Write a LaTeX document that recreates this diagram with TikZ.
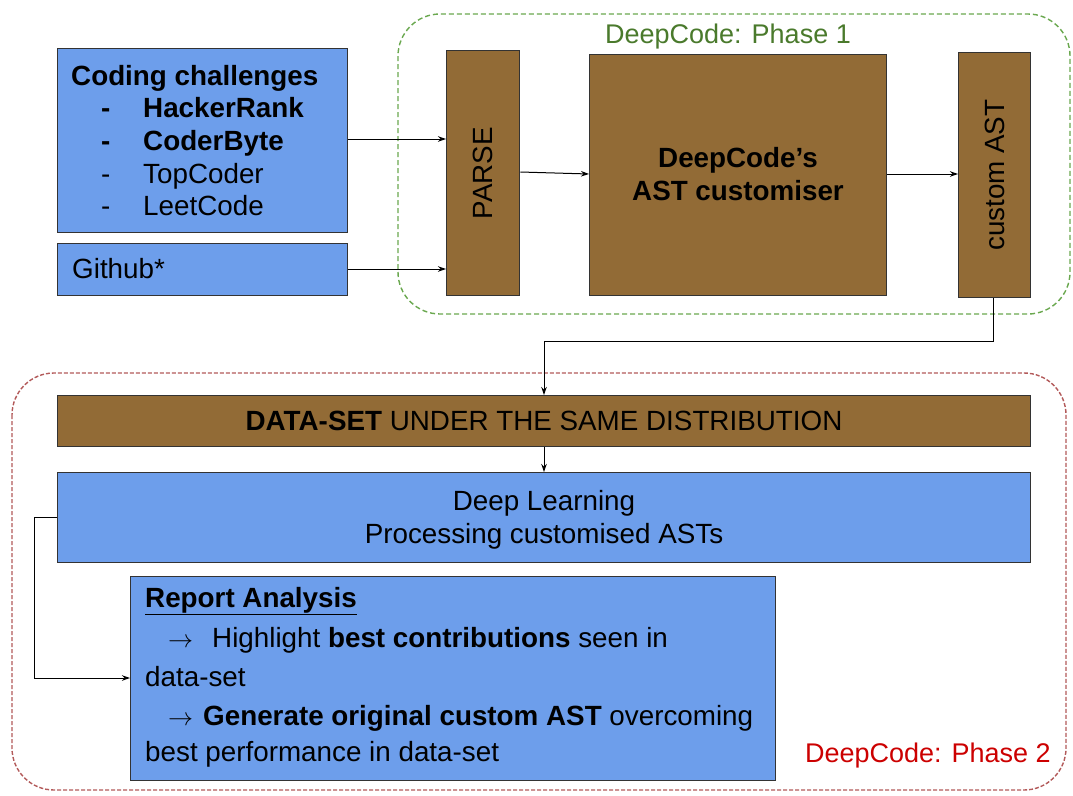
\documentclass[tikz,border=0pt]{standalone}
\usepackage{fontspec}
\usepackage{graphicx}
\setmainfont{Liberation Sans}
\usetikzlibrary{arrows.meta}
\definecolor{boxblue}{HTML}{6D9EEB}
\definecolor{boxbrown}{HTML}{926B36}
\definecolor{phaseonegreen}{HTML}{6AA84F}
\definecolor{phaseonetext}{HTML}{4A7A2C}
\definecolor{phasetwored}{HTML}{B35A5A}
\definecolor{phasetwotext}{HTML}{CC0000}
\newcommand{\rarr}{\makebox[25pt][l]{\resizebox{25pt}{!}{$\rightarrow$}}}
\begin{document}
\begin{tikzpicture}[x=1pt,y=-1pt,
  txt/.style={font=\fontsize{27.8}{33}\selectfont, inner sep=0pt},
  labeltxt/.style={font=\fontsize{27}{33}\selectfont, inner sep=0pt},
  bluebox/.style={draw=black!80, fill=boxblue, line width=1.3pt, inner sep=0pt, anchor=north west},
  brownbox/.style={draw=black!80, fill=boxbrown, line width=1.3pt, inner sep=0pt, anchor=north west},
  link/.style={draw=black, line width=1pt, -{Stealth[length=8pt,width=5.5pt]}},
  phaseframe/.style={line width=1.4pt, rounded corners=42pt}
]
\useasboundingbox (0,0) rectangle (1073,795);
\fill[white] (0,0) rectangle (1073,795);

% phase frames
\draw[phaseframe, draw=phaseonegreen, dash pattern=on 5pt off 3pt] (398,14) rectangle (1070,314);
\draw[phaseframe, draw=phasetwored, dash pattern=on 4pt off 2pt] (12,373) rectangle (1066,790);
\node[labeltxt, text=phaseonetext, anchor=base] (p1label) at (728,43) {DeepCode: Phase 1};
\node[labeltxt, text=phasetwotext, anchor=base east] (p2label) at (1051,762) {DeepCode: Phase 2};

% sources
\node[bluebox, minimum width=290pt, minimum height=184pt] (coding) at (57,48) {};
\node[txt, anchor=base west] (ctitle) at (71,85) {\bfseries Coding challenges};
\node[txt, anchor=base west] (d1) at (101,117) {\bfseries -};
\node[txt, anchor=base west] (i1) at (143,117) {\bfseries HackerRank};
\node[txt, anchor=base west] (d2) at (101,150) {\bfseries -};
\node[txt, anchor=base west] (i2) at (143,150) {\bfseries CoderByte};
\node[txt, anchor=base west] (d3) at (101,183) {-};
\node[txt, anchor=base west] (i3) at (143,183) {TopCoder};
\node[txt, anchor=base west] (d4) at (101,215) {-};
\node[txt, anchor=base west] (i4) at (143,215) {LeetCode};

\node[bluebox, minimum width=290pt, minimum height=52pt] (github) at (57,243) {};
\node[txt, anchor=base west] (gtext) at (72,278) {Github*};

% phase 1 blocks
\node[brownbox, minimum width=73pt, minimum height=245pt] (parse) at (446,50) {};
\node[txt, rotate=90] (parsetext) at (parse.center) {PARSE};
\node[brownbox, minimum width=297pt, minimum height=241pt] (custom) at (589,54) {};
\node[txt, anchor=base] (cust1) at (738,167) {\bfseries DeepCode’s};
\node[txt, anchor=base] (cust2) at (738,200) {\bfseries AST customiser};
\node[brownbox, minimum width=72pt, minimum height=245pt] (cast) at (958,52) {};
\node[txt, rotate=90] (casttext) at (cast.center) {custom AST};

% phase 2 blocks
\node[brownbox, minimum width=973pt, minimum height=51pt] (dataset) at (57,395) {};
\node[txt, anchor=base] (dstext) at (544,430) {\bfseries DATA-SET\mdseries\ UNDER THE SAME DISTRIBUTION};
\node[bluebox, minimum width=973pt, minimum height=90pt] (deep) at (57,472) {};
\node[txt, anchor=base] (deep1) at (544,510) {Deep Learning};
\node[txt, anchor=base] (deep2) at (544,543) {Processing customised ASTs};
\node[bluebox, minimum width=645pt, minimum height=204pt] (report) at (130,576) {};
\node[txt, anchor=base west] (r1) at (145,607) {\underline{\bfseries Report Analysis}};
\node[txt, anchor=base west] (r2) at (168,647) {\rarr\hspace{19pt}Highlight \textbf{best contributions} seen in};
\node[txt, anchor=base west] (r3) at (145,686) {data-set};
\node[txt, anchor=base west] (r4) at (168,725) {\rarr\hspace{10pt}\textbf{Generate original custom AST} overcoming};
\node[txt, anchor=base west] (r5) at (145,761) {best performance in data-set};

% connectors
\draw[link] (coding.east |- 0,139) -- (parse.west |- 0,139);
\draw[link] (github.east |- 0,269) -- (parse.west |- 0,269);
\draw[link] (parse.east |- 0,172) -- (custom.west |- 0,174);
\draw[link] (custom.east |- 0,174) -- (cast.west |- 0,174);
\coordinate (down1) at (993,341);
\coordinate (down2) at (544,341);
\draw[link] (cast.south -| down1) -- (down1) -- (down2) -- (dataset.north -| down2);
\draw[link] (dataset.south -| down2) -- (deep.north -| down2);
\coordinate (left1) at (34,517);
\coordinate (left2) at (34,678);
\draw[link] (deep.west |- left1) -- (left1) -- (left2) -- (report.west |- left2);
\end{tikzpicture}
\end{document}
